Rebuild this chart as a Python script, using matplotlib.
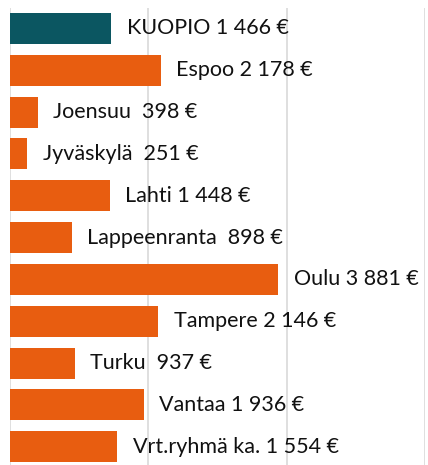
import matplotlib
matplotlib.use("Agg")
import matplotlib.pyplot as plt

cities = ["KUOPIO", "Espoo", "Joensuu ", "Jyväskylä ", "Lahti", "Lappeenranta ",
          "Oulu", "Tampere", "Turku ", "Vantaa", "Vrt.ryhmä ka."]
values = [1466, 2178, 398, 251, 1448, 898, 3881, 2146, 937, 1936, 1554]
colors = ["#0b5661"] + ["#e85d10"] * 10

fig = plt.figure(figsize=(4.28, 4.65), dpi=100)
ax = fig.add_axes([10/428, -0.0056, 415/428, 0.9893])
y = list(range(len(values)))
ax.barh(y, values, height=0.74, color=colors, zorder=2)
ax.set_xlim(0, 6000)
ax.set_ylim(len(values) - 0.5, -0.5)
ax.set_xticks([0, 2000, 4000, 6000])
ax.grid(axis="x", color="#d9d9d9", linewidth=1.2, zorder=0)
ax.tick_params(left=False, bottom=False, labelleft=False, labelbottom=False)
for s in ax.spines.values():
    s.set_visible(False)

def fmt(v):
    return f"{v:,}".replace(",", " ")

for yi, (c, v) in enumerate(zip(cities, values)):
    ax.annotate(f"{c} {fmt(v)} €", (v, yi), xytext=(11, 0), textcoords="offset points",
                va="center", ha="left", fontsize=15.5, family="Lato", color="#111111")

fig.savefig("out.png", dpi=100)
